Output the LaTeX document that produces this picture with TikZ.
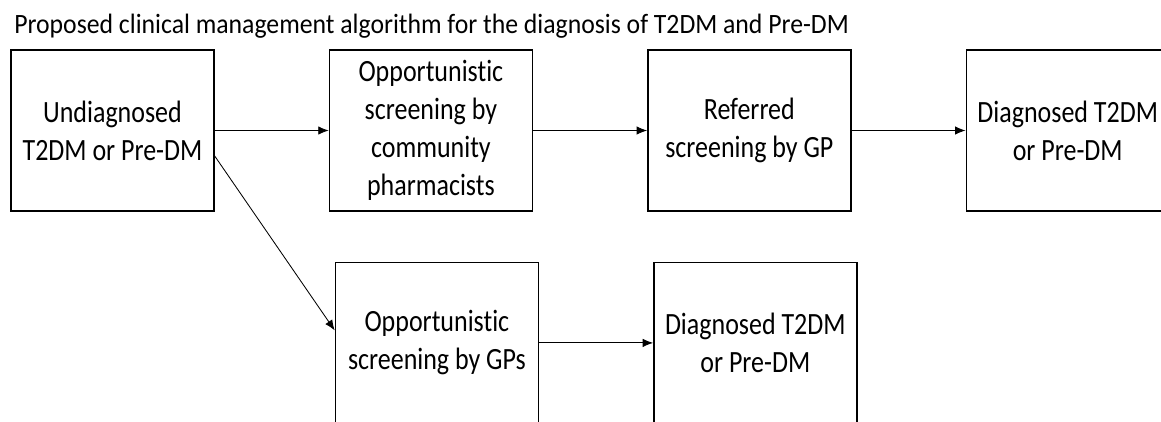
\documentclass[tikz,border=0pt]{standalone}
\usepackage{fontspec}
\setmainfont{Carlito}
\newfontfamily\boxfont{Carlito}[FakeStretch=0.84, Ligatures=NoCommon]
\newfontfamily\titlefont{Carlito}[FakeStretch=0.92, Ligatures=NoCommon]
\usepackage{tikz}
\usetikzlibrary{calc}
\usetikzlibrary{arrows.meta}
\usetikzlibrary{positioning}

\begin{document}
\begin{tikzpicture}[
        stepbox/.style={draw=black, line width=1pt, minimum width=5.075cm, minimum height=4.025cm,
                        inner sep=0pt, align=center, font=\boxfont\fontsize{22}{27}\selectfont},
        link/.style={line width=0.6pt, -{Latex[length=2.6mm, width=2.1mm]}}
    ]
            \useasboundingbox                                             ( 0.00, 0.00) rectangle (29.025,-10.525);
            \clip                                                         ( 0.00, 0.00) rectangle (29.025,-10.525);
            \node[anchor=base west, inner sep=0pt, font=\titlefont\fontsize{19.9}{24}\selectfont]
                 (title) at ( 0.35,-0.825) {Proposed clinical management algorithm for the diagnosis of T2DM and Pre-DM};
            \node[stepbox]                                (undiag)  at ( 2.8125,-3.2625) {Undiagnosed\\T2DM or Pre-DM};
            \node[stepbox, right=2.85cm of undiag]        (pharm)           {Opportunistic\\screening by\\community\\pharmacists};
            \node[stepbox, right=2.85cm of pharm]         (refgp)           {Referred\\screening by GP};
            \node[stepbox, right=2.85cm of refgp]         (diagA)           {Diagnosed T2DM\\or Pre-DM};
            \node[stepbox, below=1.25cm of pharm, xshift=0.15cm] (gpscr) {Opportunistic\\screening by GPs};
            \node[stepbox, right=2.85cm of gpscr]         (diagB)           {Diagnosed T2DM\\or Pre-DM};
            \draw[link] (undiag) -- (pharm);
            \draw[link] (pharm)  -- (refgp);
            \draw[link] (refgp)  -- (diagA);
            \draw[link] (undiag.-14.6) -- (gpscr.173.6);
            \draw[link] (gpscr)  -- (diagB);
        \end{tikzpicture}
\end{document}
